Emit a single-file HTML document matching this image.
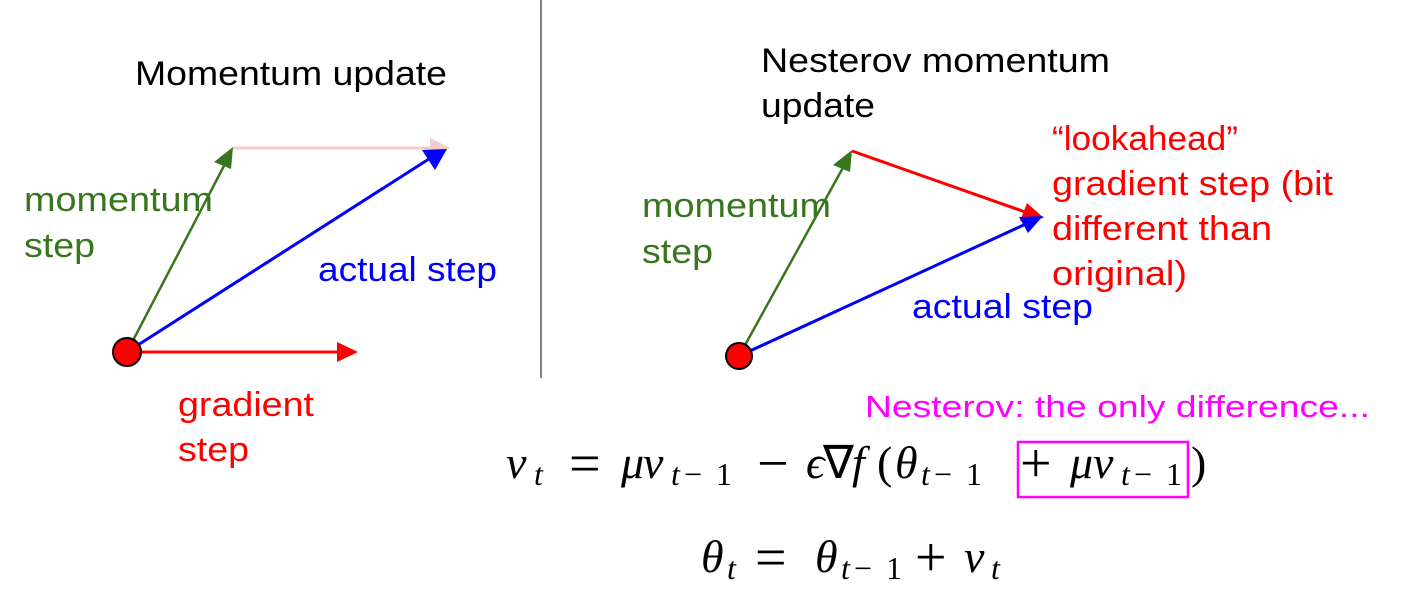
<!DOCTYPE html>
<html><head><meta charset="utf-8"><style>
html,body{margin:0;padding:0;background:#fff;}
svg{display:block;}
text{font-family:"Liberation Sans",sans-serif;}
.eq{font-family:"Liberation Serif",serif;}
.i{font-style:italic;}
.s{font-size:32px;}
.o{font-size:56px;}
</style></head><body>
<svg width="1426" height="594" viewBox="0 0 1426 594">
<line x1="541" y1="0" x2="541" y2="378" stroke="#555" stroke-width="1.5"/>

<!-- Left diagram -->
<text x="135" y="85" font-size="34" fill="#000" textLength="312" lengthAdjust="spacingAndGlyphs">Momentum update</text>
<g>
<line x1="127" y1="352" x2="226" y2="162" stroke="#38761d" stroke-width="2.5"/>
<polygon points="233,147 214,162 231,169" fill="#38761d"/></g>
<g>
<line x1="233" y1="148" x2="432" y2="148" stroke="#f4cccc" stroke-width="3"/>
<polygon points="450,148 430,138 430,158" fill="#f4cccc"/></g>
<g>
<line x1="127" y1="352" x2="432" y2="157" stroke="#0000ff" stroke-width="3"/>
<polygon points="447,149 422,150 435,170" fill="#0000ff"/></g>
<g>
<line x1="127" y1="352" x2="340" y2="352" stroke="#ff0000" stroke-width="3"/>
<polygon points="358,352 337,342 337,362" fill="#ff0000"/></g>
<circle cx="127" cy="352" r="14" fill="#ff0000" stroke="#000" stroke-width="2"/>
<text font-size="34" fill="#38761d"><tspan x="24" y="211" textLength="189" lengthAdjust="spacingAndGlyphs">momentum</tspan><tspan x="24" y="257" textLength="71" lengthAdjust="spacingAndGlyphs">step</tspan></text>
<text x="318" y="281" font-size="34" fill="#0000ff" textLength="179" lengthAdjust="spacingAndGlyphs">actual step</text>
<text font-size="34" fill="#ff0000"><tspan x="178" y="416" textLength="136" lengthAdjust="spacingAndGlyphs">gradient</tspan><tspan x="178" y="461" textLength="71" lengthAdjust="spacingAndGlyphs">step</tspan></text>

<!-- Right diagram -->
<text font-size="34" fill="#000"><tspan x="761" y="72" textLength="349" lengthAdjust="spacingAndGlyphs">Nesterov momentum</tspan><tspan x="761" y="117" textLength="114" lengthAdjust="spacingAndGlyphs">update</tspan></text>
<g>
<line x1="739" y1="356" x2="845" y2="164" stroke="#38761d" stroke-width="2.5"/>
<polygon points="852,150 833,165 850,172" fill="#38761d"/></g>
<g>
<line x1="852" y1="151" x2="1028" y2="213" stroke="#ff0000" stroke-width="3"/>
<polygon points="1044,218 1027,203 1020,221" fill="#ff0000"/></g>
<g>
<line x1="739" y1="356" x2="1028" y2="223" stroke="#0000ff" stroke-width="3"/>
<polygon points="1043,216 1019,217 1028,233" fill="#0000ff"/></g>
<circle cx="739" cy="356" r="13" fill="#ff0000" stroke="#000" stroke-width="2"/>
<text font-size="34" fill="#38761d"><tspan x="642" y="217" textLength="189" lengthAdjust="spacingAndGlyphs">momentum</tspan><tspan x="642" y="263" textLength="71" lengthAdjust="spacingAndGlyphs">step</tspan></text>
<text x="912" y="318" font-size="34" fill="#0000ff" textLength="181" lengthAdjust="spacingAndGlyphs">actual step</text>
<text font-size="34" fill="#ff0000"><tspan x="1052" y="150" textLength="186" lengthAdjust="spacingAndGlyphs">“lookahead”</tspan><tspan x="1052" y="195" textLength="281" lengthAdjust="spacingAndGlyphs">gradient step (bit</tspan><tspan x="1052" y="240" textLength="220" lengthAdjust="spacingAndGlyphs">different than</tspan><tspan x="1052" y="285" textLength="135" lengthAdjust="spacingAndGlyphs">original)</tspan></text>

<text x="865" y="417" font-size="31" fill="#ff00ff" textLength="505" lengthAdjust="spacingAndGlyphs">Nesterov: the only difference...</text>

<!-- Equations -->
<text class="eq" font-size="46" fill="#000"><tspan class="i" x="506" y="478">v</tspan><tspan class="i s" x="534" y="485">t</tspan><tspan class="o" x="569" y="482">=</tspan><tspan class="i" x="621" y="478">μ</tspan><tspan class="i" x="643" y="478">v</tspan><tspan class="i s" x="671" y="485">t</tspan><tspan class="s" x="684" y="485">−</tspan><tspan class="s" x="716" y="485">1</tspan><tspan class="o" x="757" y="482">−</tspan><tspan class="i" x="806" y="478">ϵ</tspan><tspan x="823" y="478">∇</tspan><tspan class="i" x="852" y="478">f</tspan><tspan x="877" y="478">(</tspan><tspan class="i" x="895" y="478">θ</tspan><tspan class="i s" x="921" y="485">t</tspan><tspan class="s" x="934" y="485">−</tspan><tspan class="s" x="966" y="485">1</tspan><tspan class="o" x="1020" y="482">+</tspan><tspan class="i" x="1070" y="478">μ</tspan><tspan class="i" x="1093" y="478">v</tspan><tspan class="i s" x="1121" y="485">t</tspan><tspan class="s" x="1134" y="485">−</tspan><tspan class="s" x="1166" y="485">1</tspan><tspan x="1191" y="478">)</tspan></text>
<rect x="1018" y="442" width="170" height="55" fill="none" stroke="#ff00ff" stroke-width="2.5"/>
<text class="eq" font-size="46" fill="#000"><tspan class="i" x="701" y="572">θ</tspan><tspan class="i s" x="727" y="579">t</tspan><tspan class="o" x="755" y="576">=</tspan><tspan class="i" x="815" y="572">θ</tspan><tspan class="i s" x="841" y="579">t</tspan><tspan class="s" x="854" y="579">−</tspan><tspan class="s" x="886" y="579">1</tspan><tspan class="o" x="915" y="576">+</tspan><tspan class="i" x="964" y="572">v</tspan><tspan class="i s" x="991" y="579">t</tspan></text>
</svg>
</body></html>
